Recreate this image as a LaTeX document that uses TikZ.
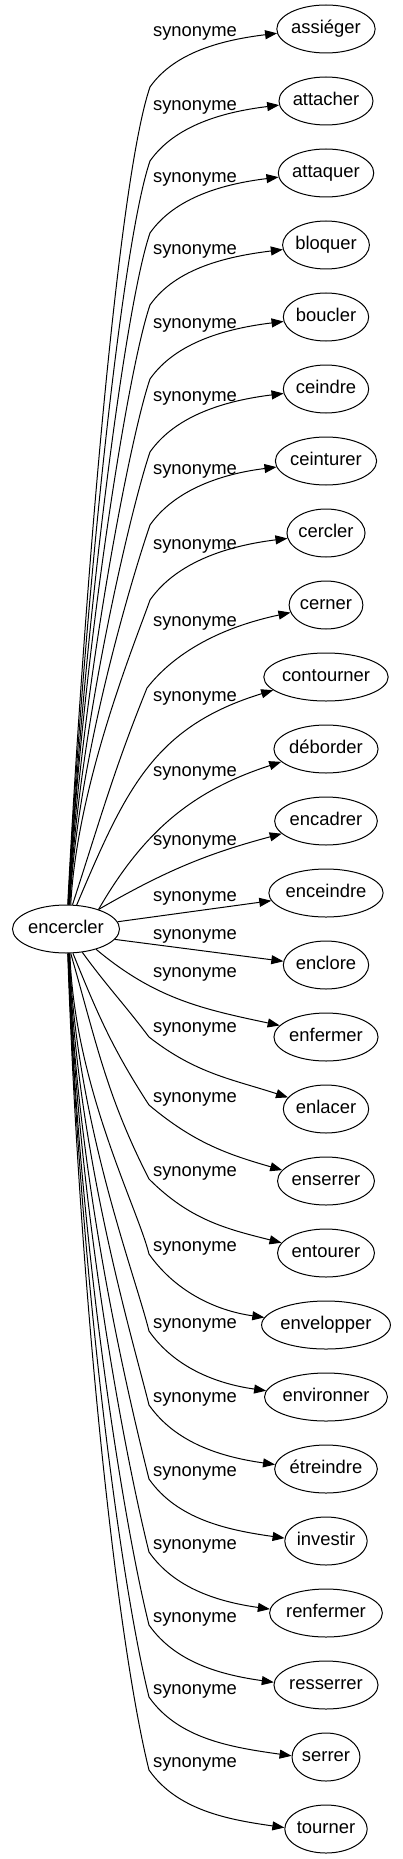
\documentclass[tikz,border=0pt]{standalone}
\usepackage{fontspec}
\setmainfont{Liberation Sans}
\usetikzlibrary{shapes.geometric,arrows.meta}
\newsavebox\gvbox
\newlength\gvlen
\newcommand\gvfont{\fontsize{18.4}{22}\selectfont}
\tikzset{
  gv/.style={ellipse, draw, line width=1pt, inner sep=0pt, minimum height=48pt, font=\gvfont, text height=13.2pt, text depth=3.9pt},
  lab/.style={font=\gvfont, inner sep=0pt, text height=13.2pt, text depth=3.9pt},
  edge/.style={line width=1pt, -{Triangle[length=12pt,width=9pt]}},
}
\begin{document}
\begin{tikzpicture}[x=1pt,y=1pt]
\useasboundingbox (0,0) rectangle (403,-1859);
\sbox\gvbox{\gvfont encercler}\setlength\gvlen{\wd\gvbox}
\pgfmathsetmacro\mw{1.3*\gvlen+27.7}
\node[gv, minimum width=\mw pt] (enc) at (66,-929) {encercler};
\foreach \nm/\txt [count=\i from 0] in {assieger/assiéger, attacher/attacher, attaquer/attaquer, bloquer/bloquer, boucler/boucler, ceindre/ceindre, ceinturer/ceinturer, cercler/cercler, cerner/cerner, contourner/contourner, deborder/déborder, encadrer/encadrer, enceindre/enceindre, enclore/enclore, enfermer/enfermer, enlacer/enlacer, enserrer/enserrer, entourer/entourer, envelopper/envelopper, environner/environner, etreindre/étreindre, investir/investir, renfermer/renfermer, resserrer/resserrer, serrer/serrer, tourner/tourner}{
  \sbox\gvbox{\gvfont\txt}\setlength\gvlen{\wd\gvbox}
  \pgfmathsetmacro\mw{1.3*\gvlen+27.7}
  \node[gv, minimum width=\mw pt] (\nm) at (326,{-29-72*\i}) {\txt};
}
\foreach \L [count=\i from 0] in {32,106,178,250,324,397,470,545,622,697,772,841,897,935,973,1028,1098,1172,1247,1324,1398,1472,1545,1618,1690,1763}{
  \node[lab] (lab\i) at (195,-\L) {synonyme};
}
% top far edges
\foreach \nm/\i/\sa/\ky/\ea in {assieger/0/86/87/185, attacher/1/85/161/185, attaquer/2/84/233/185, bloquer/3/84/305/186, boucler/4/83/379/186, ceindre/5/82/452/186, ceinturer/6/81/525/187, cercler/7/79/600/188}{
  \coordinate (k\i) at (150,-\ky);
  \draw[edge] (enc.\sa) to[out=87,in=251,out looseness=1,in looseness=0.3] (k\i) to[out=55,in=187,out looseness=0.8] (\nm.\ea);
}
\coordinate (k8) at (147,-688);
\draw[edge] (enc.75) to[out=72,in=248] (k8) to[out=52,in=192,out looseness=0.8] (cerner.192);
\draw[edge] (enc.66) to[out=67,in=197,looseness=1.1] (contourner.194);
\draw[edge] (enc.31) to[out=60,in=198] (deborder.196);
\draw[edge] (enc.31) to[out=30,in=195] (encadrer.196);
\draw[edge] (enc.8) -- (enceindre.188);
% bottom edges
\draw[edge] (enc.348) -- (enclore.175);
\draw[edge] (enc.326) to[out=-40,in=168] (enfermer.166);
\coordinate (k15) at (149,-1037);
\draw[edge] (enc.305) to[out=-54,in=127] (k15) to[out=-38,in=162] (enlacer.163);
\coordinate (k16) at (149,-1105);
\draw[edge] (enc.286) to[out=-68,in=123] (k16) to[out=-40,in=164] (enserrer.166);
\coordinate (k17) at (149,-1179);
\draw[edge] (enc.281) to[out=-74,in=117] (k17) to[out=-45,in=166] (entourer.167);
\foreach \nm/\i/\sa/\ky/\ea in {envelopper/18/279/1254/173, environner/19/278/1331/174, etreindre/20/277/1405/175, investir/21/276/1479/176, renfermer/22/276/1552/176, resserrer/23/275/1625/177, serrer/24/275/1697/178, tourner/25/274/1770/178}{
  \coordinate (k\i) at (149,-\ky);
  \draw[edge] (enc.\sa) to[out=-88,in=104,out looseness=1.1,in looseness=0.4] (k\i) to[out=-55,in=172,out looseness=0.85] (\nm.\ea);
}
\end{tikzpicture}
\end{document}
